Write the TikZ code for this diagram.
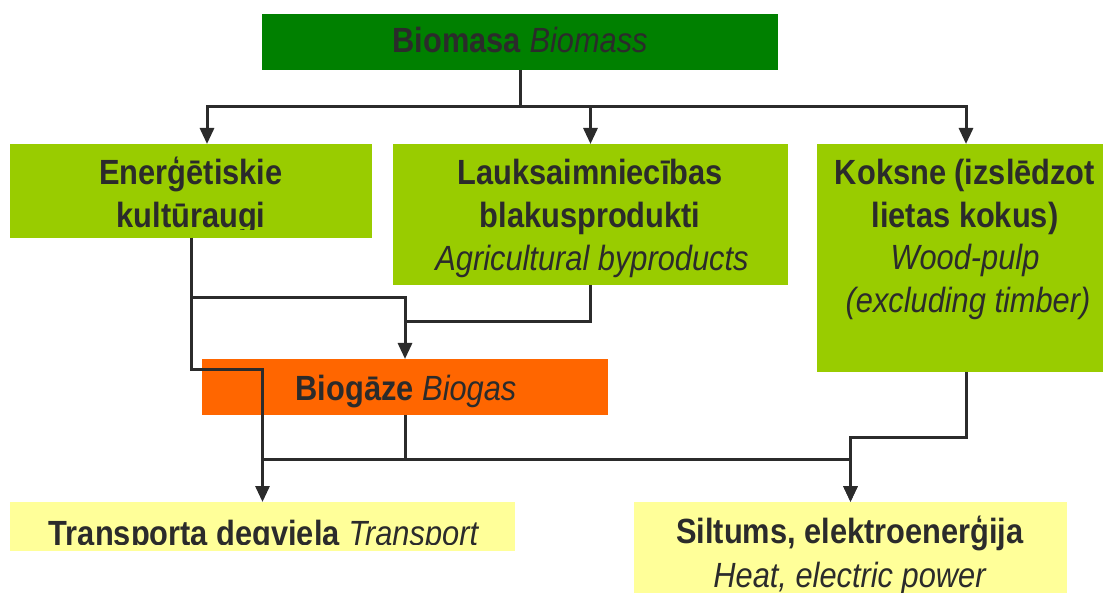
\documentclass[tikz,border=0pt]{standalone}
\usepackage{fontspec}
\setmainfont{Liberation Sans}[FakeStretch=0.88]
\usetikzlibrary{arrows.meta}
\definecolor{dkgreen}{HTML}{008000}
\definecolor{ltgreen}{HTML}{99CC00}
\definecolor{orng}{HTML}{FF6600}
\definecolor{ylw}{HTML}{FFFF99}
\definecolor{ink}{HTML}{2B2B2B}
\begin{document}
\begin{tikzpicture}[x=1pt,y=-1pt,
  box/.style={draw=none,inner sep=0pt,outer sep=0pt,anchor=north west},
  txt/.style={text=ink,anchor=base,inner sep=0pt,font=\fontsize{35}{42}\selectfont},
  conn/.style={draw=ink,line width=3pt},
  arr/.style={conn,-{Triangle[width=14pt,length=16pt]}}]
\useasboundingbox (0,0) rectangle (1103,593);

% boxes
\node[box,fill=dkgreen,minimum width=516pt,minimum height=56pt] (bio) at (262,14) {};
\node[box,fill=ltgreen,minimum width=362pt,minimum height=94pt] (ener) at (10,144) {};
\node[box,fill=ltgreen,minimum width=395pt,minimum height=141pt] (lauk) at (393,144) {};
\node[box,fill=ltgreen,minimum width=286pt,minimum height=228pt] (kok) at (817,144) {};
\node[box,fill=orng,minimum width=406pt,minimum height=56pt] (biog) at (202,359) {};
\node[box,fill=ylw,minimum width=505pt,minimum height=49pt] (trans) at (10,502) {};
\node[box,fill=ylw,minimum width=433pt,minimum height=91pt] (sil) at (634,502) {};

% texts
\node[txt] (tbio) at (520,53) {\textbf{Biomasa} \textit{Biomass}};
\begin{scope}
  \clip (10,144) rectangle (372,230);
  \node[txt] (tener1) at (191,185) {\textbf{Enerģētiskie}};
  \node[txt] (tener2) at (191,228) {\textbf{kultūraugi}};
\end{scope}
\node[txt] (tlauk1) at (590,185) {\textbf{Lauksaimniecības}};
\node[txt] (tlauk2) at (590,228) {\textbf{blakusprodukti}};
\node[txt] (tlauk3) at (592,271) {\textit{Agricultural byproducts}};
\node[txt] (tkok1) at (965,185) {\textbf{Koksne (izslēdzot}};
\node[txt] (tkok2) at (965,228) {\textbf{lietas kokus)}};
\node[txt] (tkok3) at (965,270) {\textit{Wood-pulp}};
\node[txt] (tkok4) at (968,313) {\textit{(excluding timber)}};
\node[txt] (tbiog) at (406,400) {\textbf{Biogāze} \textit{Biogas}};
\begin{scope}
  \clip (10,502) rectangle (515,544);
  \node[txt] (ttrans) at (264,545) {\textbf{Transporta degviela} \textit{Transport}};
\end{scope}
\node[txt] (tsil1) at (850,543) {\textbf{Siltums, elektroenerģija}};
\node[txt] (tsil2) at (850,587) {\textit{Heat, electric power}};

% connectors
\coordinate (j1) at (520,107);
\draw[arr] (bio.south) -- (j1) -| ([xshift=16pt]ener.north);
\draw[arr] (j1) -| (lauk.north);
\draw[arr] (j1) -| ([xshift=6pt]kok.north);
\coordinate (j2) at (405,298);
\draw[arr] (ener.south) |- (j2) -- (biog.north);
\coordinate (j3) at (405,322);
\draw[conn] (lauk.south) |- (j3);
\coordinate (j4) at (262.5,370);
\draw[arr] (ener.south) |- (j4) -- (trans.north);
\coordinate (j5) at (262.5,459);
\draw[conn] (biog.south) -- (biog.south |- j5);
\draw[arr] (j5) -| (sil.north);
\draw[arr] ([xshift=6pt]kok.south) -- ++(0,65) -| (sil.north);
\end{tikzpicture}
\end{document}
